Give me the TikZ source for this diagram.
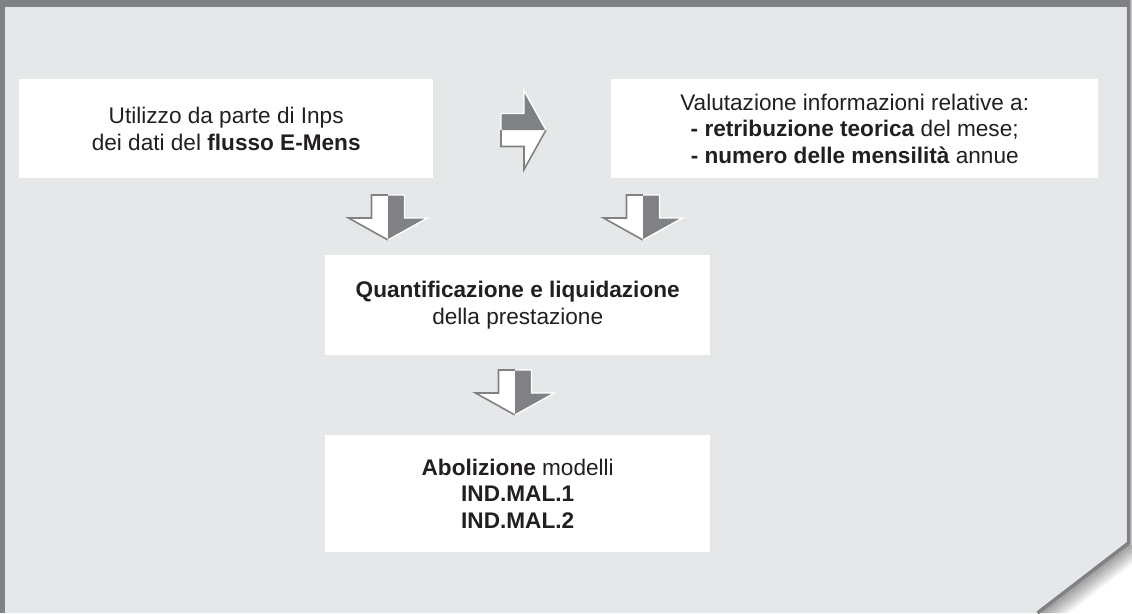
\documentclass[tikz,border=0pt]{standalone}
\usepackage{fontspec}
\setmainfont{Liberation Sans}
\definecolor{bg}{HTML}{E6E7E8}
\definecolor{frame}{HTML}{808184}
\definecolor{txt}{HTML}{231F20}
\tikzset{
  box/.style={fill=white, anchor=north west, inner sep=0pt, align=center, text=txt,
    font=\fontsize{22.6}{26.5}\selectfont},
  blockarrow/.pic={
    \fill[white] (0,0) -- (-39.5,-22) -- (-16.5,-22) -- (-16.5,-45) -- (0,-45) -- cycle;
    \fill[frame] (0,0) -- (0,-45) -- (16.5,-45) -- (16.5,-22) -- (39.5,-22) -- cycle;
    \draw[frame, line width=1.6pt, line join=miter] (0,0) -- (-39.5,-22) -- (-16.5,-22) -- (-16.5,-45) -- (0,-45);
    \draw[white, line width=1.4pt, line join=miter] (0,-45) -- (16.5,-45) -- (16.5,-22) -- (39.5,-22) -- (0,0);
  }
}
\begin{document}
\begin{tikzpicture}[x=1pt,y=-1pt]
\useasboundingbox (0,0) rectangle (1132,613);
\fill[white] (0,0) rectangle (1132,613);
\fill[bg] (0,0) -- (1130,0) -- (1130,543) -- (1038,613) -- (0,613) -- cycle;
% shadow of the folded corner
\begin{scope}
  \clip (1130,540) -- (1132,540) -- (1132,613) -- (1038,613) -- cycle;
  \foreach \k in {1,...,18} {
    \pgfmathsetmacro\op{0.3*(1-\k/19)}
    \draw[black, line width=1.3pt, opacity=\op, shift={(\k*0.61,\k*0.79)}] (1166,515) -- (1003,641);
  }
\end{scope}
\fill[frame!45] (1130,0) rectangle (1132,545);
% frame
\fill[frame] (0,0) rectangle (1130,7);
\fill[frame] (0,0) rectangle (4.5,613);
\draw[frame, line width=3.5pt, line join=miter] (1128.5,0) -- (1128.5,543) -- (1037.5,613);
% boxes
\node[box, minimum width=414pt, minimum height=99pt] (b1) at (19,79)
  {Utilizzo da parte di Inps\\dei dati del \textbf{flusso E-Mens}};
\node[box, minimum width=487pt, minimum height=99pt] (b2) at (611,79)
  {Valutazione informazioni relative a:\\\textbf{- retribuzione teorica} del mese;\\\textbf{- numero delle mensilità} annue};
\node[box, minimum width=385pt, minimum height=100pt] (b3) at (325,255)
  {\textbf{Quantificazione e liquidazione}\\della prestazione};
\node[box, minimum width=385pt, minimum height=117pt] (b4) at (325,435)
  {\textbf{Abolizione} modelli\\\textbf{IND.MAL.1}\\\textbf{IND.MAL.2}};
% block arrows
\pic at (388,240) {blockarrow};
\pic at (643,240) {blockarrow};
\pic at (515,415) {blockarrow};
\pic[rotate=90] at (546,130) {blockarrow};
\end{tikzpicture}
\end{document}
